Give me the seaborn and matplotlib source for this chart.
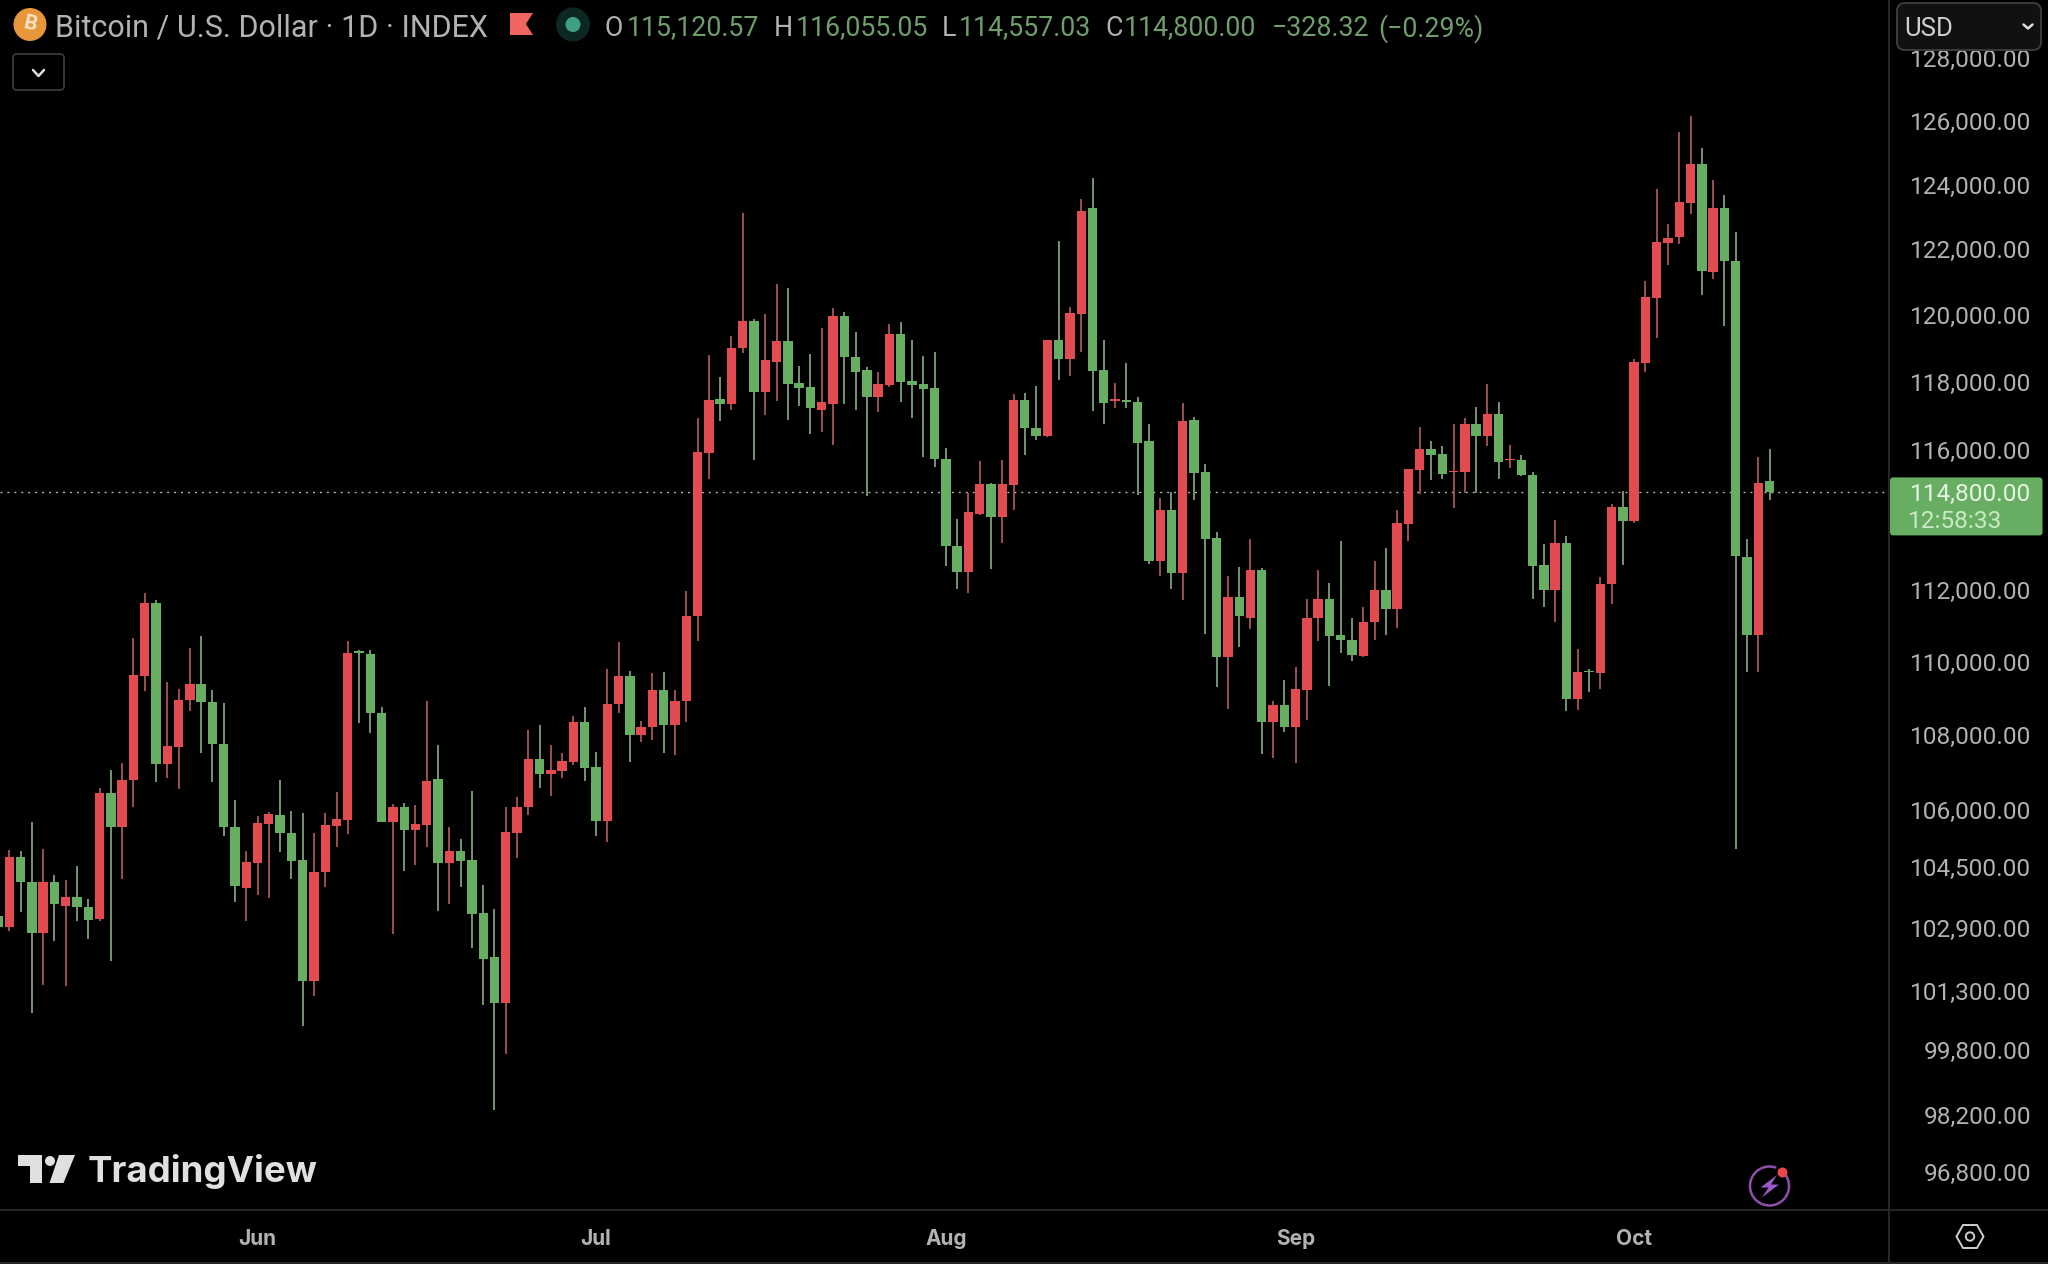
import numpy as np
import pandas as pd
import matplotlib
matplotlib.use("Agg")
import matplotlib.pyplot as plt
from matplotlib.patches import Circle, Polygon, FancyBboxPatch, Arc
import seaborn as sns

opens = [
    103219, 102936, 104766, 104095, 102777, 104095, 103485, 103715, 103449, 103131,
    106456, 105545, 106791, 109614, 111656, 107237, 107684, 108966, 109405, 108911,
    107758, 105545, 103950, 104603, 105636, 105853, 105382, 104666, 101555, 104367,
    105581, 105726, 110305, 110216, 108615, 105672, 106076, 105466, 105588, 106812,
    104602, 104921, 104668, 103289, 102151, 100981, 105391, 106067, 107352, 106947,
    107044, 107285, 108355, 107140, 105710, 108846, 109623, 108008, 108220, 109227,
    108268, 108924, 111271, 115934, 117492, 117360, 119011, 119815, 117720, 118614,
    119230, 117969, 117859, 117175, 117350, 119965, 118753, 118356, 117561, 117919,
    119448, 118048, 117939, 117820, 115749, 113266, 112528, 114166, 115041, 114081,
    114993, 117476, 116651, 116426, 119272, 118683, 120050, 123279, 118365, 117439,
    117462, 117427, 116265, 112825, 114285, 112488, 116886, 115367, 113487, 110153,
    111814, 111237, 112578, 108365, 108813, 108237, 109244, 111215, 111757, 110744,
    110613, 110175, 111128, 112018, 111482, 113893, 115439, 116031, 115895, 115361,
    115361, 116768, 116428, 117069, 115711, 115730, 115284, 112710, 111999, 113344,
    109000, 109765, 109700, 112179, 114376, 113961, 118579, 120528, 122189, 122367,
    123435, 124647, 121314, 123287, 121655, 112942, 110766, 115120.57,
]
highs = [
    103400, 104929, 104911, 105681, 104965, 104295, 104150, 104512, 103660, 106586,
    107060, 107256, 110683, 111926, 111732, 109443, 109271, 110397, 110731, 109223,
    108874, 106270, 104911, 105835, 105953, 106809, 105971, 105907, 105382, 105925,
    106474, 110588, 110325, 110345, 108760, 106170, 106189, 106133, 108943, 107728,
    105550, 105231, 106504, 104010, 103390, 106076, 106344, 108133, 108287, 107728,
    107535, 108519, 108760, 107545, 109801, 110552, 109771, 108403, 109692, 109722,
    109227, 111991, 116962, 118803, 118157, 119389, 123131, 119885, 120034, 120949,
    120826, 118495, 118832, 119617, 120213, 120094, 119498, 118455, 118306, 119746,
    119786, 119249, 118773, 118912, 116060, 114015, 114779, 115701, 115070, 115720,
    117641, 117681, 117879, 119272, 122262, 120250, 123555, 124201, 119272, 117988,
    118577, 117564, 116771, 114619, 114792, 117393, 116990, 115597, 113644, 112398,
    112656, 113442, 112623, 108931, 109507, 109868, 111757, 112578, 112207, 113386,
    111237, 111543, 112836, 113192, 114282, 115458, 116681, 116283, 116137, 116768,
    116962, 117263, 117937, 117427, 116166, 115866, 115381, 113316, 113988, 113534,
    110365, 109802, 112388, 114443, 114818, 118700, 121033, 123871, 122782, 125651,
    126154, 125134, 124145, 123688, 122545, 113438, 115800, 116055.05,
]
lows = [
    102700, 102830, 103325, 100734, 101458, 102564, 101414, 103095, 102617, 103100,
    102051, 104168, 106089, 109204, 106754, 106847, 106568, 108669, 107516, 106754,
    105319, 103591, 103095, 103769, 103679, 104893, 104186, 100407, 101166, 103968,
    105019, 105364, 108326, 108066, 105670, 102747, 104377, 104545, 105015, 103353,
    103528, 103963, 102380, 100927, 98323, 99704, 104724, 105860, 106591, 106379,
    106860, 107188, 106784, 105316, 105156, 108596, 107294, 107815, 107863, 107535,
    107477, 108364, 110598, 115186, 116855, 117185, 118872, 115711, 117049, 117457,
    116884, 117292, 116477, 116535, 116147, 117350, 117185, 114682, 117127, 117859,
    117408, 116933, 115798, 115517, 112689, 112026, 111931, 114138, 112613, 113352,
    114280, 115866, 116312, 116400, 118059, 118200, 118895, 117163, 116783, 117243,
    117255, 114699, 112746, 112409, 112027, 111719, 114560, 110777, 109321, 108717,
    110416, 110908, 107500, 107393, 108098, 107265, 108429, 110591, 109353, 110262,
    110043, 110150, 110624, 110744, 110947, 113382, 114741, 115129, 115167, 114348,
    114779, 114760, 116118, 115167, 115488, 115250, 111763, 111530, 111113, 108673,
    108691, 109184, 109258, 111620, 112710, 113919, 118319, 119316, 121537, 122160,
    123094, 120617, 121107, 119677, 104973, 109732, 109732, 114557.03,
]
closes = [
    102936, 104766, 104095, 102777, 104095, 103520, 103715, 103449, 103113, 106456,
    105545, 106809, 109653, 111656, 107237, 107702, 108966, 109405, 108902, 107758,
    105545, 103987, 104621, 105654, 105889, 105400, 104657, 101555, 104367, 105599,
    105762, 110263, 110266, 108615, 105691, 106076, 105466, 105616, 106784, 104602,
    104921, 104649, 103271, 102114, 101000, 105409, 106076, 107352, 106947, 107063,
    107314, 108355, 107121, 105710, 108866, 109623, 108017, 108229, 109227, 108268,
    108943, 111284, 115953, 117466, 117360, 119031, 119815, 117720, 118664, 119230,
    117949, 117820, 117233, 117408, 119965, 118753, 118296, 117571, 117939, 119448,
    117998, 117909, 117800, 115740, 113248, 112528, 114223, 115041, 114081, 115022,
    117476, 116642, 116426, 119272, 118683, 120061, 123194, 118341, 117381, 117505,
    117416, 116230, 112825, 114285, 112488, 116852, 115344, 113465, 110153, 111814,
    111270, 112578, 108365, 108813, 108237, 109255, 111237, 111757, 110722, 110624,
    110197, 111128, 112016, 111482, 113912, 115458, 116031, 115876, 115323, 115410,
    116768, 116428, 117069, 115662, 115759, 115274, 112700, 111999, 113325, 109000,
    109719, 109719, 112179, 114376, 113955, 118608, 120558, 122219, 122353, 123450,
    124647, 121329, 123287, 121655, 112969, 110766, 115067, 114800.00,
]

fechas = pd.date_range("2025-05-09", periods=len(opens), freq="D")
meses = ["Jun", "Jul", "Aug", "Sep", "Oct"]
precios_eje = [128000, 126000, 124000, 122000, 120000, 118000, 116000, 112000, 110000,
               108000, 106000, 104500, 102900, 101300, 99800, 98200, 96800]
y_lim = (95880, 129873)

COLOR_UP = "#E24C50"
COLOR_DOWN = "#68AE62"
WICK_UP = "#B0595E"
WICK_DOWN = "#83A583"
TXT_GREY = "#B2B2B2"
TXT_GREEN = "#6F9E6C"
LINEA = "#262626"

sns.set_theme(style="dark", rc={"axes.facecolor": "black", "figure.facecolor": "black",
                                "axes.grid": False})
plt.rcParams["font.family"] = ["Roboto", "DejaVu Sans"]

df = pd.DataFrame({"i": np.arange(len(opens)), "fecha": fechas, "open": opens,
                   "high": highs, "low": lows, "close": closes})
df["sube"] = df["close"] >= df["open"]
df["base"] = df[["open", "close"]].min(axis=1)
df["cuerpo"] = (df["close"] - df["open"]).abs()

fig = plt.figure(figsize=(20.48, 12.64), dpi=100)
ax = fig.add_axes([0, 54 / 1264, 1888 / 2048, 1210 / 1264])

# mechas
for sube, color in [(True, WICK_UP), (False, WICK_DOWN)]:
    sub = df[df["sube"] == sube]
    ax.vlines(sub["i"], sub["low"], sub["high"], color=color, lw=1.25, zorder=2)

# cuerpos de las velas
for sube, color in [(True, COLOR_UP), (False, COLOR_DOWN)]:
    sub = df[df["sube"] == sube]
    sns.barplot(data=sub, x="i", y="cuerpo", bottom=sub["base"].to_numpy(), native_scale=True,
                color=color, saturation=1, errorbar=None, width=0.83, linewidth=0,
                zorder=3, ax=ax)

ax.set_yscale("log")
ax.set_ylim(*y_lim)
ax.set_xlim(0.177, 167.5)
ax.axhline(closes[-1], color="#A9C4A8", lw=1.0, ls=(0, (1.4, 3.6)), zorder=1)

ax.yaxis.tick_right()
ax.set_yticks(precios_eje, [f"{p:,.2f}" for p in precios_eje])
ax.minorticks_off()
ax.tick_params(axis="y", length=0, pad=103, labelsize=17.6, labelcolor=TXT_GREY)
plt.setp(ax.get_yticklabels(), ha="right")

pos_meses = [df.index[fechas == pd.Timestamp(2025, m, 1)][0] for m in range(6, 11)]
ax.set_xticks(pos_meses, meses)
ax.tick_params(axis="x", length=0, pad=14, labelsize=15, labelcolor=TXT_GREY)
plt.setp(ax.get_xticklabels(), fontweight="bold", family=["Inter", "DejaVu Sans"])
ax.set_xlabel("")
ax.set_ylabel("")
sns.despine(ax=ax, left=True, right=True, top=True, bottom=True)

# capa de interfaz en pixeles de la imagen
ui = fig.add_axes([0, 0, 1, 1], zorder=10)
ui.set_xlim(0, 2048)
ui.set_ylim(1264, 0)
ui.axis("off")
ui.patch.set_alpha(0)

ui.plot([0, 2048], [1210, 1210], color=LINEA, lw=1.5)
ui.plot([0, 2048], [1262.5, 1262.5], color=LINEA, lw=1.5)
ui.plot([1889, 1889], [0, 1264], color=LINEA, lw=1.5)

# cabecera
ui.add_patch(Circle((30, 24.5), 16.5, color="#E8963A", lw=0))
ui.text(30, 24.5, "B", color="#F7E3C8", fontsize=15, ha="center", va="center",
        rotation=-12, fontweight="bold")
ui.text(55, 25, "Bitcoin / U.S. Dollar · 1D · INDEX", color=TXT_GREY, fontsize=22,
        ha="left", va="center_baseline")
ui.add_patch(Polygon([(510, 13), (533, 13), (526, 24), (533, 35), (510, 35)], color="#F0655F", lw=0))
ui.add_patch(Circle((573, 24.5), 17, color="#0D2722", lw=0))
ui.add_patch(Circle((573, 24.5), 7.5, color="#3E9F87", lw=0))

encabezado = [
    (605, "O", TXT_GREY), (627, "115,120.57", TXT_GREEN),
    (774, "H", TXT_GREY), (796, "116,055.05", TXT_GREEN),
    (942, "L", TXT_GREY), (959, "114,557.03", TXT_GREEN),
    (1105, "C", TXT_GREY), (1124, "114,800.00", TXT_GREEN),
    (1272, "−328.32", TXT_GREEN), (1378, "(−0.29%)", TXT_GREEN),
]
for x, txt, col in encabezado:
    ui.text(x, 25, txt, color=col, fontsize=19.3, ha="left", va="center_baseline")

# boton desplegable
ui.add_patch(FancyBboxPatch((13, 54), 51, 36, boxstyle="round,pad=0,rounding_size=4",
                            fc="black", ec="#3A3A3A", lw=1.3))
ui.plot([33, 38.5, 44], [70, 76, 70], color="#DDDDDD", lw=1.8)

# selector de moneda (tapa la etiqueta de 128,000)
ui.add_patch(FancyBboxPatch((1897, 3), 144, 47, boxstyle="round,pad=0,rounding_size=8",
                            fc="#111111", ec="#3C3C3C", lw=1.4))
ui.text(1904, 27, "USD", color="#CFCFCF", fontsize=18.5, ha="left", va="center_baseline")
ui.plot([2023.5, 2028, 2032.5], [24.5, 28.5, 24.5], color="#DDDDDD", lw=1.8)

# etiqueta del ultimo precio, alineada con el eje
y_last = 1264 - ax.transData.transform((0, closes[-1]))[1]
ui.add_patch(FancyBboxPatch((1890, y_last - 14.5), 152.5, 58, boxstyle="round,pad=0,rounding_size=3",
                            fc=COLOR_DOWN, ec="none"))
ui.text(2031, y_last + 0.5, f"{closes[-1]:,.2f}", color="#E6F4E3", fontsize=17.6, ha="right",
        va="center_baseline")
ui.text(1907.5, y_last + 27, "12:58:33", color="#CBE8C7", fontsize=17.6, ha="left",
        va="center_baseline")

# logo
ui.add_patch(Polygon([(18, 1155), (42, 1155), (42, 1183), (30, 1183), (30, 1166), (18, 1166)],
                     color="#E0E0E0", lw=0))
ui.add_patch(Circle((50, 1161), 5, color="#E0E0E0", lw=0))
ui.add_patch(Polygon([(59, 1155), (75, 1155), (63.5, 1183), (49.5, 1183)], color="#E0E0E0", lw=0))
ui.text(88, 1168, "TradingView", color="#E0E0E0", fontsize=26.4, fontweight="bold",
        ha="left", va="center_baseline", family=["Inter", "DejaVu Sans"])

# icono de rayo
ui.add_patch(Arc((1769.5, 1186), 39, 39, theta1=-35, theta2=290, color="#8E4FA8", lw=1.8))
ui.add_patch(Polygon([(1777, 1175), (1760.5, 1187.5), (1768.5, 1187.5), (1762, 1197.5),
                      (1779, 1184.5), (1771, 1184.5)], color="#9B59C6", lw=0))
ui.add_patch(Circle((1782.5, 1172.5), 5, color="#E8484A", lw=0))

# ajustes
hexa = [(1956.5, 1236.5), (1963, 1225), (1977, 1225), (1983.5, 1236.5), (1977, 1248), (1963, 1248)]
ui.add_patch(Polygon(hexa, closed=True, fc="none", ec="#CFCFCF", lw=1.4))
ui.add_patch(Circle((1970, 1236.5), 4.2, fc="none", ec="#CFCFCF", lw=1.4))

fig.savefig("out.png", dpi=100, facecolor="black")
